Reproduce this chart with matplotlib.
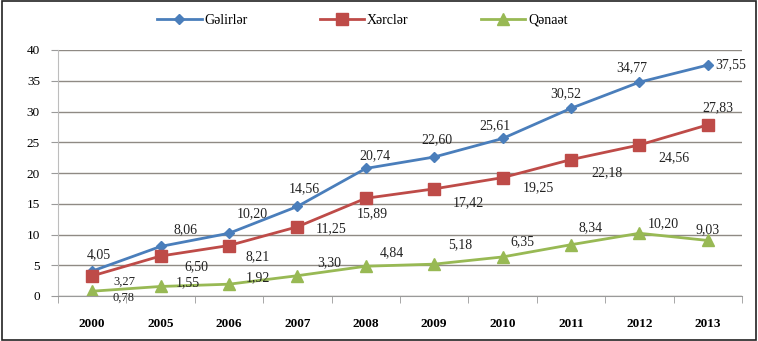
import matplotlib.pyplot as plt
from matplotlib.lines import Line2D
from matplotlib.patches import Rectangle

plt.rcParams['font.family'] = ['Liberation Serif', 'DejaVu Serif']

years = ['2000', '2005', '2006', '2007', '2008', '2009', '2010', '2011', '2012', '2013']
gelirler = [4.05, 8.06, 10.20, 14.56, 20.74, 22.60, 25.61, 30.52, 34.77, 37.55]
xercler = [3.27, 6.50, 8.21, 11.25, 15.89, 17.42, 19.25, 22.18, 24.56, 27.83]
qenaet = [0.78, 1.55, 1.92, 3.30, 4.84, 5.18, 6.35, 8.34, 10.20, 9.03]

# label offsets in pixels (dx, dy), positive dy goes up
off_g = [(7, 16), (25, 17), (23, 20), (7, 18), (9, 13), (3, 17), (-8, 13), (-5, 15), (-8, 14), (23, 0)]
off_x = [(32, -6), (36, -11), (29, -11), (34, -2), (6, -15), (34, -14), (36, -10), (36, -13), (35, -13), (10, 17)]
off_q = [(31, -7), (27, 4), (29, 7), (32, 13), (26, 14), (26, 19), (20, 15), (20, 17), (24, 10), (0, 11)]

blue = '#4a7ebb'
red = '#be4b48'
green = '#98b954'

fig = plt.figure(figsize=(7.58, 3.41), dpi=100)
ax = fig.add_axes([58 / 758, 1 - 296 / 341, (742 - 58) / 758, (296 - 50) / 341])

x = range(len(years))
ax.plot(x, gelirler, color=blue, lw=2, marker='D', ms=5, label='Gəlirlər')
ax.plot(x, xercler, color=red, lw=2, marker='s', ms=9, label='Xərclər')
ax.plot(x, qenaet, color=green, lw=2, marker='^', ms=8, label='Qənaət')

px = 72 / fig.dpi
for vals, offs, tight in [(gelirler, off_g, False), (xercler, off_x, True), (qenaet, off_q, True)]:
    for i, v in enumerate(vals):
        dx, dy = offs[i]
        # the two low labels at 2000 sit on top of each other, so make them a bit smaller
        fs = 9 if (tight and i == 0) else 10
        ax.annotate(f'{v:.2f}'.replace('.', ','), (i, v),
                    xytext=(dx * px, dy * px), textcoords='offset points',
                    ha='center', va='center', fontsize=fs, color='#222222')

ax.set_xlim(-0.5, len(years) - 0.5)
ax.set_ylim(0, 40)
ax.set_yticks(range(0, 41, 5))
ax.yaxis.grid(True, color='#8f8a84', lw=1)
ax.set_axisbelow(True)

ax.set_xticks([i for i in x])
ax.set_xticklabels(years, fontweight='bold', fontsize=9.5)
ax.set_xticks([i - 0.5 for i in range(len(years) + 1)], minor=True)
ax.tick_params(axis='x', which='major', length=0, pad=16)
ax.tick_params(axis='x', which='minor', length=5, color='#9a9a9a', direction='out')
ax.tick_params(axis='y', length=5, color='#9a9a9a', labelsize=9.5, pad=8)

for side in ['top', 'right']:
    ax.spines[side].set_visible(False)
ax.spines['left'].set_color('#bdbdbd')
ax.spines['bottom'].set_color('#9a9a9a')

handles = [Line2D([], [], color=blue, lw=2, marker='D', ms=5),
           Line2D([], [], color=red, lw=2, marker='s', ms=9),
           Line2D([], [], color=green, lw=2, marker='^', ms=8)]
fig.legend(handles, ['Gəlirlər', 'Xərclər', 'Qənaət'], loc='center',
           bbox_to_anchor=(0.478, 0.941), ncol=3, frameon=False, fontsize=10,
           handlelength=3.2, handletextpad=0.2, columnspacing=5.2)

fig.patches.append(Rectangle((0.002, 0.004), 0.995, 0.993, transform=fig.transFigure,
                             fill=False, edgecolor='#222222', lw=1.2))

fig.savefig('out.png', dpi=100)
